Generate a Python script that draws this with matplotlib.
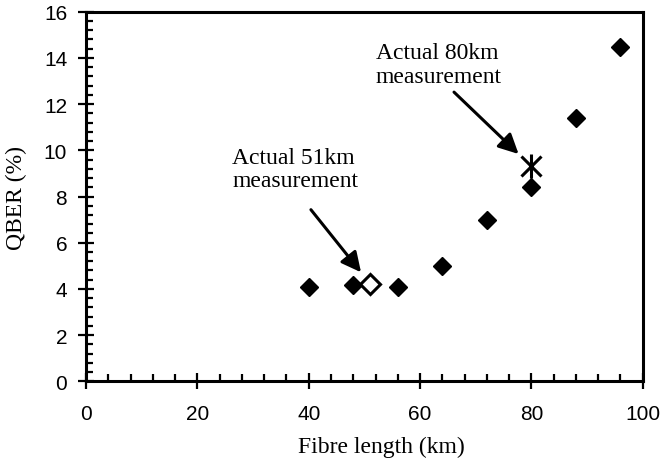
import numpy as np
import matplotlib
matplotlib.use("Agg")
import matplotlib.pyplot as plt
from matplotlib.ticker import MultipleLocator

# simulated QBER vs fibre length
length_km = [40, 48, 56, 64, 72, 80, 88, 96]
qber_pct = [4.1, 4.15, 4.1, 5.0, 7.0, 8.42, 11.38, 14.46]

# measured points
meas51 = (51, 4.21)
meas80 = (80, 9.33)

serif = ["Liberation Serif", "DejaVu Serif"]
sans = ["Liberation Sans", "DejaVu Sans"]

fig = plt.figure(figsize=(6.64, 4.64), dpi=100)
ax = fig.add_axes([0.1295, 0.176, 0.8385, 0.7966])

ax.plot(length_km, qber_pct, ls="none", marker="D", ms=9.5, mfc="k", mec="k",
        mew=1, zorder=3)
ax.plot(meas51[0], meas51[1], ls="none", marker="D", ms=10, mfc="white",
        mec="k", mew=2.2, zorder=3)
ax.plot(meas80[0], meas80[1], ls="none", marker="x", ms=15, mec="k", mew=2.2, zorder=4)
ax.plot(meas80[0], meas80[1], ls="none", marker="|", ms=17, mec="k", mew=2.2, zorder=4)

ax.set_xlim(0, 100)
ax.set_ylim(0, 16)
ax.xaxis.set_major_locator(MultipleLocator(20))
ax.xaxis.set_minor_locator(MultipleLocator(4))
ax.yaxis.set_major_locator(MultipleLocator(2))
ax.yaxis.set_minor_locator(MultipleLocator(0.4))

for s in ax.spines.values():
    s.set_linewidth(2.2)
ax.tick_params(which="major", direction="inout", length=11, width=1.6, pad=8,
               labelsize=15)
ax.tick_params(axis="x", which="major", pad=11)
ax.tick_params(which="minor", direction="in", length=5, width=1.6)
for lbl in ax.get_xticklabels() + ax.get_yticklabels():
    lbl.set_family(sans)

ax.set_xlabel("Fibre length (km)", family=serif, fontsize=17)
ax.set_ylabel("QBER (%)", family=serif, fontsize=17)
ax.xaxis.set_label_coords(0.53, -0.148)
ax.yaxis.set_label_coords(-0.105, 0.5)

ax.text(52.05, 14.67, "Actual 80km\nmeasurement", family=serif, fontsize=17,
        ha="left", va="top", linespacing=1.15)
ax.text(26.3, 10.16, "Actual 51km\nmeasurement", family=serif, fontsize=17,
        ha="left", va="top", linespacing=1.15)

arrow = dict(arrowstyle="-|>", lw=2.2, color="k", mutation_scale=30,
             shrinkA=0, shrinkB=0)
ax.annotate("", xy=(77.7, 9.84), xytext=(66.1, 12.52), arrowprops=arrow)
ax.annotate("", xy=(49.4, 4.72), xytext=(40.4, 7.43), arrowprops=arrow)

fig.savefig("out.png", dpi=100)
